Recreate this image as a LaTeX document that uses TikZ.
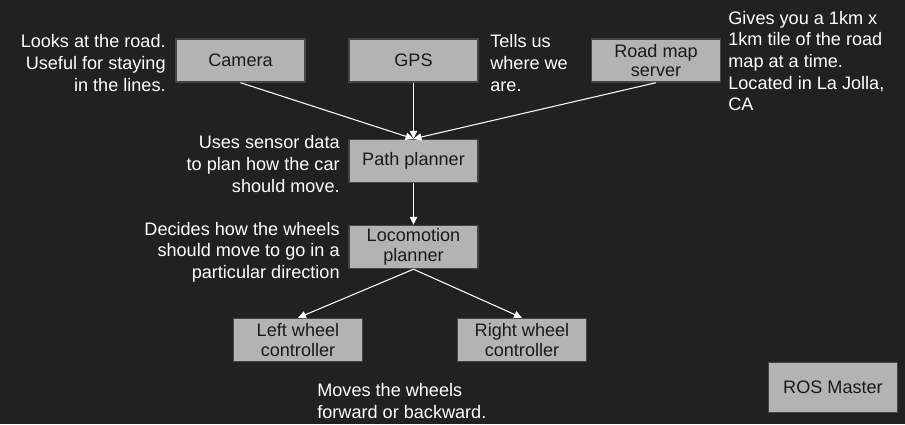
\documentclass[tikz,border=0pt]{standalone}
\usepackage{fontspec}
\setmainfont{Liberation Sans}
\usepackage{tikz}
\usetikzlibrary{positioning}
\usetikzlibrary{arrows.meta}
\usepackage{xcolor}
\definecolor{slidebg}{HTML}{212121}
\definecolor{boxfill}{HTML}{B3B3B3}
\definecolor{boxline}{HTML}{454545}
\definecolor{boxtext}{HTML}{1A1A1A}

\begin{document}
\begin{tikzpicture}[
  font=\fontsize{10.3}{12.3}\selectfont,
  box/.style={draw=boxline, line width=0.8pt, fill=boxfill, text=boxtext, align=center,
    minimum width=2.58cm, minimum height=0.86cm, inner sep=0pt,
    font=\fontsize{10.3}{11.3}\selectfont},
  arrow/.style={-{Triangle[length=4.5pt,width=4.2pt]}, draw=white, line width=0.6pt},
  note/.style={text=white, inner sep=0pt}
]

% Background
\fill[slidebg] (0,0) rectangle (18.1,-8.48);
\useasboundingbox (0,0) rectangle (18.1,-8.48);

% Sensors
\node[box] (cam) at (4.81,-1.21) {Camera};
\node[box] (gps) at (8.27,-1.21) {GPS};
\node[box] (map) at (13.12,-1.21) {Road map\\server};

% Planners
\node[box] (path) at (8.27,-3.22) {Path planner};
\node[box] (loco) at (8.27,-4.94) {Locomotion\\planner};

% Wheel controllers
\node[box] (lwheel) at (5.96,-6.80) {Left wheel\\controller};
\node[box] (rwheel) at (10.44,-6.80) {Right wheel\\controller};

% Master
\node[box, minimum height=1.0cm] (master) at (16.66,-7.75) {ROS Master};

% Data flow
\draw[arrow] (cam.south) -- (path.north);
\draw[arrow] (gps.south) -- (path.north);
\draw[arrow] (map.south) -- (path.north);
\draw[arrow] (path.south) -- (loco.north);
\draw[arrow] (loco.south) -- (lwheel.north);
\draw[arrow] (loco.south) -- (rwheel.north);

% Notes
\node[note, anchor=east, align=right] (camnote) at (3.32,-1.26) {Looks at the road.\\Useful for staying\\in the lines.};
\node[note, anchor=west, align=left] (gpsnote) at (9.8,-1.26) {Tells us\\where we\\are.};
\node[note, anchor=west, align=left] (mapnote) at (14.56,-1.22) {Gives you a 1km x\\1km tile of the road\\map at a time.\\Located in La Jolla,\\CA};
\node[note, anchor=east, align=right] (pathnote) at (6.8,-3.28) {Uses sensor data\\to plan how the car\\should move.};
\node[note, anchor=east, align=right] (loconote) at (6.8,-5.04) {Decides how the wheels\\should move to go in a\\particular direction};
\node[note, anchor=west, align=left] (wheelnote) at (6.34,-8.02) {Moves the wheels\\forward or backward.};

\end{tikzpicture}
\end{document}
